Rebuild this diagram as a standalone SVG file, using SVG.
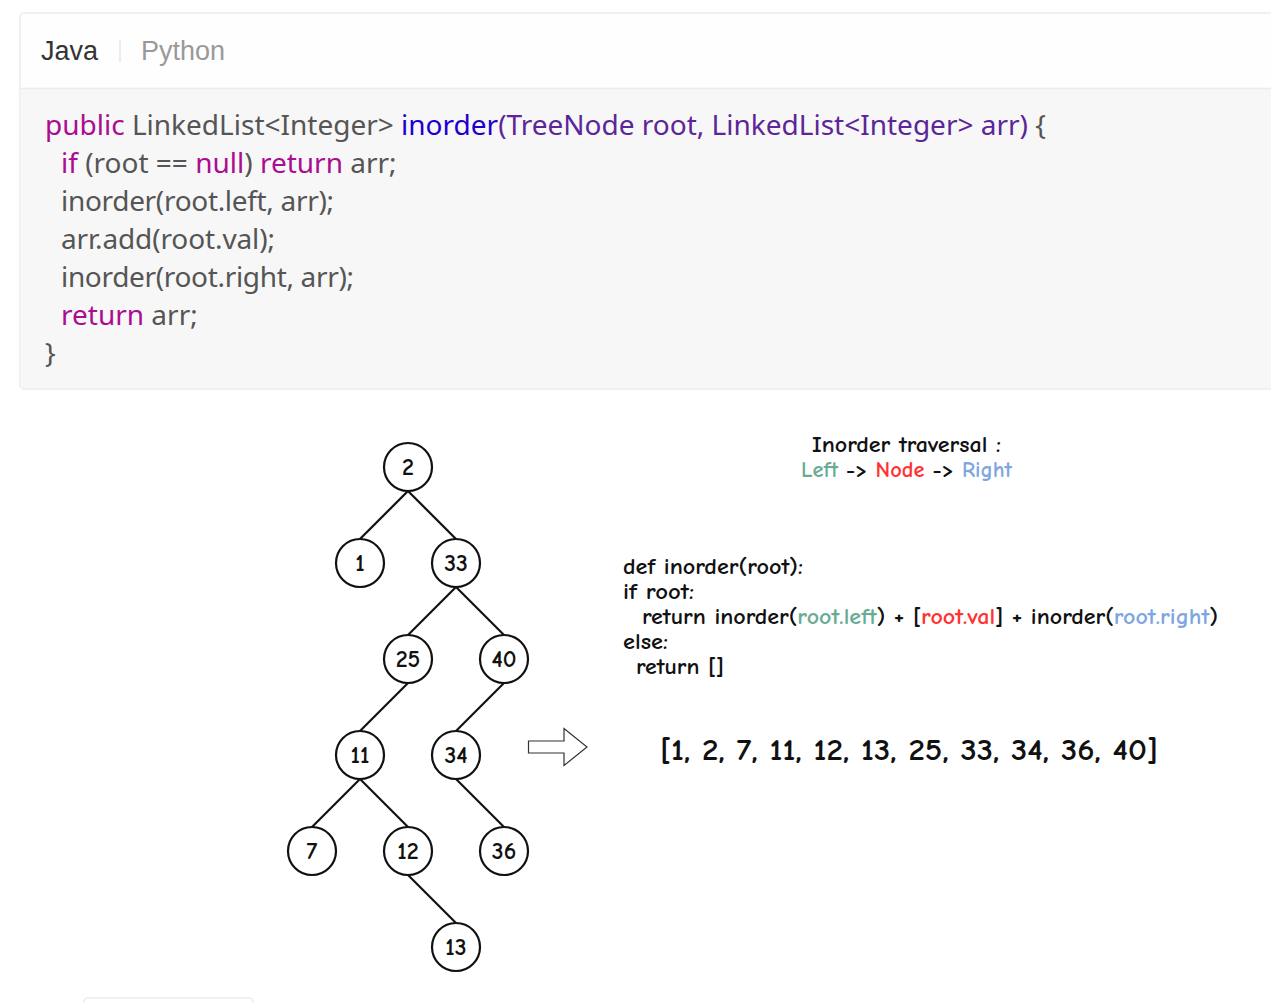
<svg xmlns="http://www.w3.org/2000/svg" width="1271" height="1003" viewBox="0 0 1271 1003">
<defs>
<style>
.code{font-family:"Noto Sans","Liberation Sans",sans-serif;font-size:28px;fill:#555555;}
.kw{fill:#aa0d91;}
.fn{fill:#1c00cf;}
.pa{fill:#5c2699;}
.hand{font-family:"Comic Neue","Comic Sans MS","DejaVu Sans",sans-serif;font-weight:700;fill:#111111;}
.node circle{fill:#ffffff;stroke:#111111;stroke-width:2.2;}
.node text{font-family:"Comic Neue","Comic Sans MS","DejaVu Sans",sans-serif;font-weight:700;font-size:24px;fill:#111111;text-anchor:middle;}
.edges line{stroke:#111111;stroke-width:2.2;}
.g{fill:#6aab96;}
.r{fill:#ff3333;}
.b{fill:#7ea6e0;}
</style>
</defs>
<rect width="1271" height="1003" fill="#ffffff"/>
<g id="codebox">
<rect x="20" y="13" width="1270" height="376" rx="4" fill="#fefefe" stroke="#ececec" stroke-width="1.5"/>
<rect x="20.75" y="89" width="1260" height="299.25" fill="#f7f7f7"/>
<line x1="20" y1="88.5" x2="1271" y2="88.5" stroke="#ececec" stroke-width="1.5"/>
<text x="41" y="60" font-family="Liberation Sans, Arial, sans-serif" font-size="27" fill="#333333">Java</text>
<line x1="120" y1="40" x2="120" y2="62" stroke="#e6e6e6" stroke-width="1.5"/>
<text x="141" y="60" font-family="Liberation Sans, Arial, sans-serif" font-size="27" fill="#999999">Python</text>
<text class="code" x="45" y="135"><tspan class="kw">public</tspan> LinkedList&lt;Integer&gt; <tspan class="fn">inorder</tspan><tspan class="pa">(TreeNode root, LinkedList&lt;Integer&gt; arr)</tspan> {</text>
<text class="code" x="61" y="173"><tspan class="kw">if</tspan> (root == <tspan class="kw">null</tspan>) <tspan class="kw">return</tspan> arr;</text>
<text class="code" x="61" y="211" textLength="273">inorder(root.left, arr);</text>
<text class="code" x="61" y="249" textLength="214">arr.add(root.val);</text>
<text class="code" x="61" y="287" textLength="293">inorder(root.right, arr);</text>
<text class="code" x="61" y="325"><tspan class="kw">return</tspan> arr;</text>
<text class="code" x="45" y="363">}</text>
</g>
<g class="edges" id="connectors">
<line x1="408" y1="491" x2="360" y2="539"/>
<line x1="408" y1="491" x2="456" y2="539"/>
<line x1="456" y1="587" x2="408" y2="635"/>
<line x1="456" y1="587" x2="504" y2="635"/>
<line x1="408" y1="683" x2="360" y2="731"/>
<line x1="504" y1="683" x2="456" y2="731"/>
<line x1="360" y1="779" x2="312" y2="827"/>
<line x1="360" y1="779" x2="408" y2="827"/>
<line x1="456" y1="779" x2="504" y2="827"/>
<line x1="408" y1="875" x2="456" y2="923"/>
</g>
<g class="node" id="n2"><circle cx="408" cy="467" r="24"/><text x="408" y="475">2</text></g>
<g class="node" id="n1"><circle cx="360" cy="563" r="24"/><text x="360" y="571">1</text></g>
<g class="node" id="n33"><circle cx="456" cy="563" r="24"/><text x="456" y="571">33</text></g>
<g class="node" id="n25"><circle cx="408" cy="659" r="24"/><text x="408" y="667">25</text></g>
<g class="node" id="n40"><circle cx="504" cy="659" r="24"/><text x="504" y="667">40</text></g>
<g class="node" id="n11"><circle cx="360" cy="755" r="24"/><text x="360" y="763">11</text></g>
<g class="node" id="n34"><circle cx="456" cy="755" r="24"/><text x="456" y="763">34</text></g>
<g class="node" id="n7"><circle cx="312" cy="851" r="24"/><text x="312" y="859">7</text></g>
<g class="node" id="n12"><circle cx="408" cy="851" r="24"/><text x="408" y="859">12</text></g>
<g class="node" id="n36"><circle cx="504" cy="851" r="24"/><text x="504" y="859">36</text></g>
<g class="node" id="n13"><circle cx="456" cy="947" r="24"/><text x="456" y="955">13</text></g>
<g id="arrow">
<path d="M528.5,741 L564,741 L564,728.5 L587,747 L564,765.5 L564,753 L528.5,753 Z" fill="#ffffff" stroke="#333333" stroke-width="1.2"/>
</g>
<g id="notes">
<text class="hand" x="812" y="452" font-size="23" textLength="189" lengthAdjust="spacingAndGlyphs">Inorder traversal :</text>
<text class="hand" x="801" y="477" font-size="23" textLength="211" lengthAdjust="spacingAndGlyphs"><tspan class="g">Left</tspan> -&gt; <tspan class="r">Node</tspan> -&gt; <tspan class="b">Right</tspan></text>
<text class="hand" x="623" y="574" font-size="23" textLength="180" lengthAdjust="spacingAndGlyphs">def inorder(root):</text>
<text class="hand" x="623" y="599" font-size="23" textLength="71" lengthAdjust="spacingAndGlyphs">if root:</text>
<text class="hand" x="642" y="624" font-size="23" textLength="576" lengthAdjust="spacingAndGlyphs">return inorder(<tspan class="g">root.left</tspan>) + [<tspan class="r">root.val</tspan>] + inorder(<tspan class="b">root.right</tspan>)</text>
<text class="hand" x="623" y="649" font-size="23" textLength="45" lengthAdjust="spacingAndGlyphs">else:</text>
<text class="hand" x="636" y="674" font-size="23" textLength="88" lengthAdjust="spacingAndGlyphs">return []</text>
<text class="hand" x="660" y="760" font-size="31" textLength="498" lengthAdjust="spacingAndGlyphs">[1, 2, 7, 11, 12, 13, 25, 33, 34, 36, 40]</text>
</g>
<rect x="84" y="998" width="169" height="20" rx="4" fill="#ffffff" stroke="#ececec" stroke-width="1.5"/>
</svg>
